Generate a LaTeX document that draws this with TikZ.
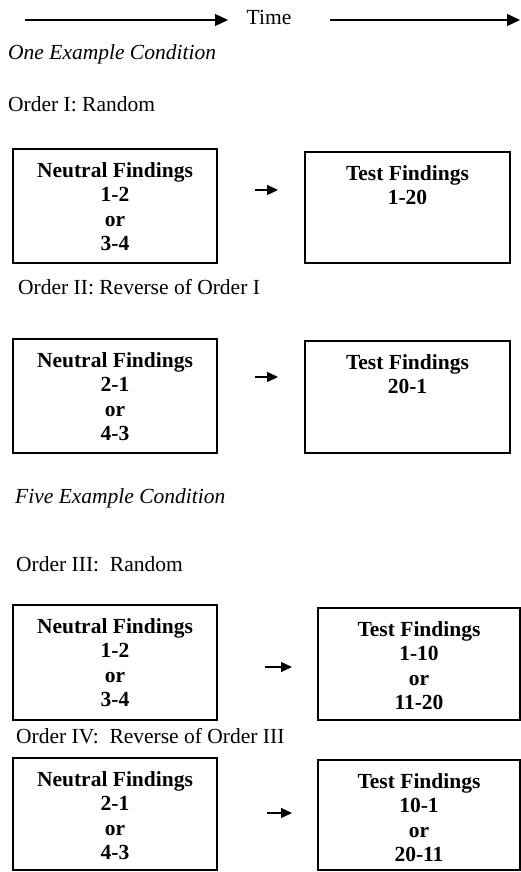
\documentclass[tikz,border=0pt]{standalone}
\usepackage{fontspec}
\setmainfont{Liberation Serif}
\usetikzlibrary{arrows.meta}
\newcommand{\figfont}{\fontsize{21.5}{24.5}\selectfont}
\tikzstyle{finding box}=[draw, line width=1.2pt
%,fill=black!5
,inner sep=0pt
]
\tikzstyle{finding text}=[anchor=north, inner sep=0pt, align=center, font=\figfont\bfseries]
\tikzstyle{caption text}=[anchor=base west, inner sep=0pt, font=\figfont]
\tikzstyle{condition text}=[caption text, font=\figfont\itshape]
\tikzstyle{time arrow}=[draw, line width=1.3pt, -{Triangle[length=13pt,width=12pt]}]
\tikzstyle{link arrow}=[draw, line width=1.3pt, -{Triangle[length=11pt,width=10pt]}]

\begin{document}
\begin{tikzpicture}[x=1pt, y=-1pt]
    \useasboundingbox (0,0) rectangle (521,872);
    % Time line at the top
    \node[caption text, anchor=base] (time) at (269,25) {Time};
    \coordinate (tL1) at (25,20);
    \coordinate (tL2) at (228,20);
    \coordinate (tR1) at (330,20);
    \coordinate (tR2) at (520,20);
    \path[time arrow] (tL1) -- (tL2);
    \path[time arrow] (tR1) -- (tR2);

    % Conditions and orders
    \node[condition text] (one) at (8,60) {One Example Condition};
    \node[condition text] (five) at (15,503) {Five Example Condition};
    \foreach \pos/\name/\txt in {{(8,112)/O1/Order I: Random}, {(18,294)/O2/Order II: Reverse of Order I},
        {(16,571)/O3/Order III:\ \ Random}, {(16,743)/O4/Order IV:\ \ Reverse of Order III}}
        \node[caption text] (\name) at \pos {\txt};

    % First we draw the boxes
    \foreach \pos/\w/\h/\name in {{(115,206)/204/114/N1}, {(407.5,207.5)/205/111/T1},
        {(115,396)/204/114/N2}, {(407.5,397)/205/112/T2},
        {(115,662.5)/204/115/N3}, {(419,664)/202/112/T3},
        {(115,814)/204/112/N4}, {(419,815)/202/110/T4}}
        \node[finding box, minimum width=\w pt, minimum height=\h pt] (\name) at \pos {};

    % Then the findings inside them
    \foreach \name/\txt in {N1/{Neutral Findings\\1-2\\or\\3-4}, T1/{Test Findings\\1-20},
        N2/{Neutral Findings\\2-1\\or\\4-3}, T2/{Test Findings\\20-1},
        N3/{Neutral Findings\\1-2\\or\\3-4}, T3/{Test Findings\\1-10\\or\\11-20},
        N4/{Neutral Findings\\2-1\\or\\4-3}, T4/{Test Findings\\10-1\\or\\20-11}}
        \node[finding text] (\name text) at ([yshift=-13.5pt]\name.north) {\txt};

    % Connect neutral and test findings with arrows
    \coordinate (a1s) at (255,190);
    \coordinate (a1e) at (278,190);
    \coordinate (a2s) at (255,377);
    \coordinate (a2e) at (278,377);
    \coordinate (a3s) at (265,667);
    \coordinate (a3e) at (292,667);
    \coordinate (a4s) at (267,813);
    \coordinate (a4e) at (292,813);
    \foreach \i in {1,2,3,4}
        \path[link arrow] (a\i s) -- (a\i e);

\end{tikzpicture}
\end{document}
